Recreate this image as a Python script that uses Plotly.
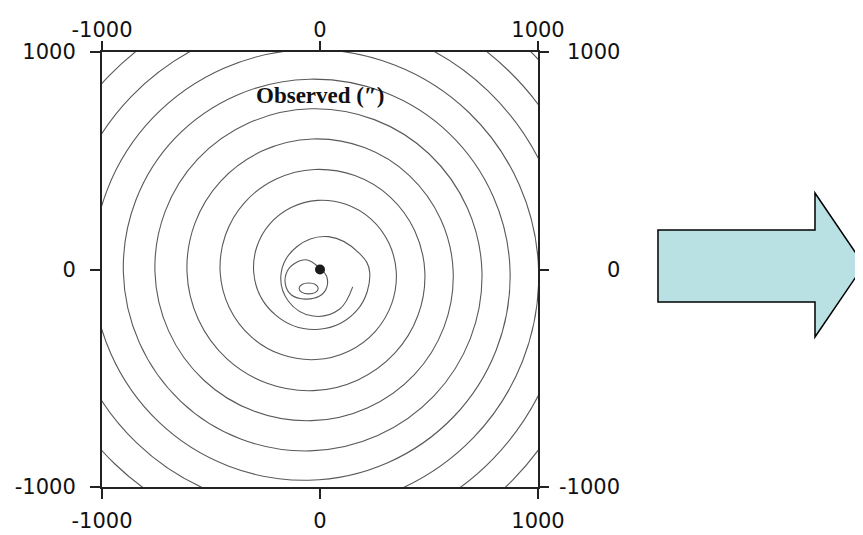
import plotly.graph_objects as go

# ---- data (data units) ----
tick_vals = [-1000, 0, 1000]
tick_text = ["-1000", "0", "1000"]

spiral_x = [150, 89, -32, -144, -178, -105, 39, 182,
            228, 171, -4, -203, -304, -231, -11, 233,
            350, 254, -18, -316, -458, -345, -25, 321,
            481, 343, -30, -428, -610, -454, -34, 410,
            611, 433, -38, -534, -757, -561, -42, 501,
            743, 523, -45, -639, -902, -665, -48, 591,
            872, 613, -51, -740, -1043, -765, -54, 682,
            1003, 704, -56, -841, -1184, -866, -59, 773,
            1134, 795, -61, -942, -1324, -967, -63, 864,
            1265, 887, -65, -1042, -1464, -1066, -67, 957,
            1398, 980, -69, -1142, -1604, -1168, -72, 1049,
            1530]
spiral_y = [-80, -183, -214, -147, -15, 106, 151, 73,
            -13, -186, -275, -210, -13, 209, 318, 233,
            -13, -284, -414, -309, -13, 309, 460, 334,
            -13, -385, -557, -410, -13, 408, 600, 432,
            -13, -483, -695, -508, -13, 507, 739, 531,
            -13, -581, -834, -606, -13, 604, 875, 627,
            -13, -677, -969, -701, -13, 699, 1011, 723,
            -13, -773, -1105, -797, -13, 795, 1147, 819,
            -13, -869, -1241, -893, -13, 891, 1283, 915,
            -13, -965, -1377, -989, -13, 987, 1419, 1011,
            -13, -1061, -1513, -1085, -13, 1084, 1555, 1108,
            -13]

loop_x = [-2, 30, 30, -2, -67, -131, -159, -150, -113, -58, -2]
loop_y = [7, -30, -85, -122, -136, -117, -67, -7, 30, 44, 7]

ellipse_x = [-8, -21, -52, -83, -96, -83, -52, -21, -8]
ellipse_y = [-87, -105, -112, -105, -87, -69, -62, -69, -87]

obs_x = [0]
obs_y = [0]

title_text = "Observed (\u2033)"

LINE = dict(color="#595959", width=1.1, shape="spline", smoothing=1.12)

fig = go.Figure()
fig.add_trace(go.Scatter(x=spiral_x, y=spiral_y, mode="lines", line=LINE,
                         hoverinfo="skip", showlegend=False))
fig.add_trace(go.Scatter(x=loop_x, y=loop_y, mode="lines", line=LINE,
                         hoverinfo="skip", showlegend=False))
fig.add_trace(go.Scatter(x=ellipse_x, y=ellipse_y, mode="lines", line=LINE,
                         hoverinfo="skip", showlegend=False))
fig.add_trace(go.Scatter(x=obs_x, y=obs_y, mode="markers",
                         marker=dict(size=10, color="#1a1a1a"),
                         hoverinfo="skip", showlegend=False))
# invisible trace to activate secondary axes
fig.add_trace(go.Scatter(x=obs_x, y=obs_y, xaxis="x2", yaxis="y2", mode="markers",
                         marker=dict(size=1, opacity=0), hoverinfo="skip",
                         showlegend=False))

TICKFONT = dict(family="DejaVu Sans, Arial, sans-serif", size=21, color="#111111")

common = dict(range=[-1000, 1000], tickvals=tick_vals, ticktext=tick_text,
              ticks="outside", ticklen=10, tickwidth=1.5, tickcolor="#222",
              showgrid=False, zeroline=False, tickfont=TICKFONT, automargin=False)

# the page adds an 8px body margin, so the figure is laid out 8px smaller
fig.update_layout(
    width=855, height=527,
    margin=dict(l=94, r=325, t=44, b=48),
    paper_bgcolor="white", plot_bgcolor="white",
    xaxis=dict(**common, showline=True, linewidth=2, linecolor="#222", mirror=True,
               ticklabelstandoff=4),
    yaxis=dict(**common, showline=True, linewidth=2, linecolor="#222", mirror=True,
               ticklabelstandoff=10),
    xaxis2=dict(**common, overlaying="x", side="top", showline=False,
                ticklabelstandoff=-4),
    yaxis2=dict(**common, overlaying="y", side="right", showline=False,
                showticklabels=False),
)

# right-side tick labels (right-aligned as in the reference)
for v, t in zip(tick_vals, tick_text):
    fig.add_annotation(x=1.193, xref="paper", y=v, yref="y", text=t,
                       showarrow=False, xanchor="right", yanchor="middle",
                       font=TICKFONT)

# title inside the frame
fig.add_annotation(x=0.5, xref="paper", y=0.899, yref="paper",
                   text="<b>" + title_text + "</b>",
                   showarrow=False, xanchor="center", yanchor="middle",
                   font=dict(family="Liberation Serif, Times New Roman, serif",
                             size=23, color="#111111"))

# block arrow on the right
def px2paper(px, py):
    return (px - 102) / 436.0, (487 - py) / 435.0

arrow_px = [(658, 230), (815, 230), (815, 193), (864, 265), (815, 337), (815, 302), (658, 302)]
pts = [px2paper(a, b) for a, b in arrow_px]
path = "M " + " L ".join(f"{a:.4f},{b:.4f}" for a, b in pts) + " Z"
fig.add_shape(type="path", xref="paper", yref="paper", path=path,
              fillcolor="#B9E0E2", line=dict(color="#000000", width=1.5))

fig.write_html("out.html")
